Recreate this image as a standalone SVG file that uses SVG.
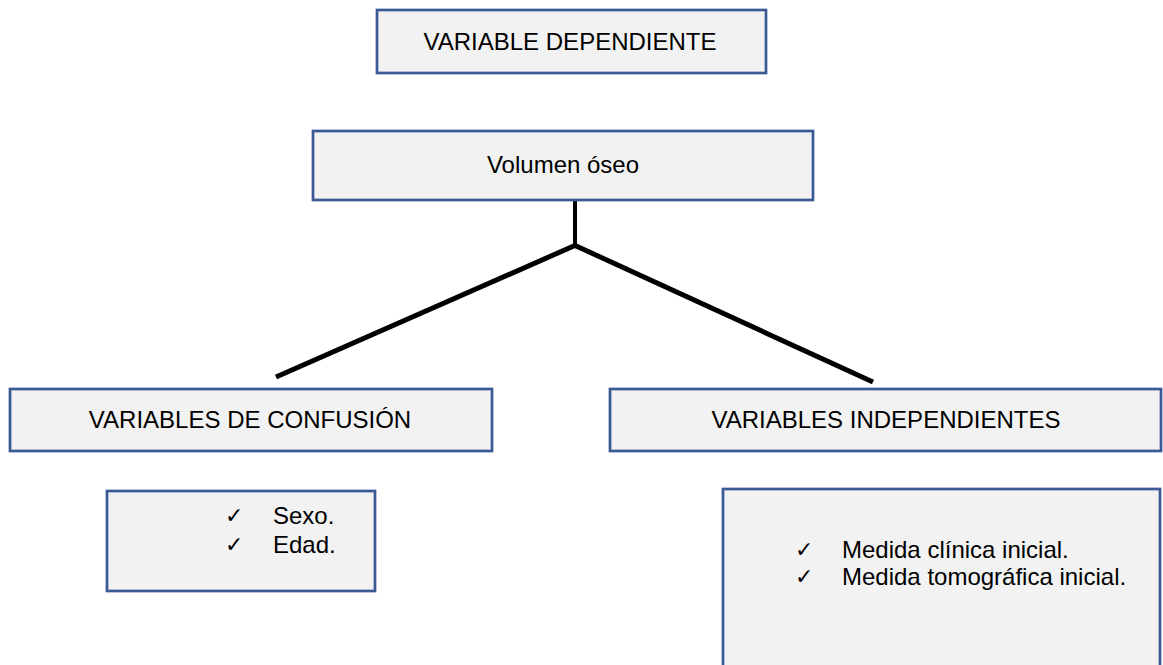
<svg xmlns="http://www.w3.org/2000/svg" width="1163" height="665" viewBox="0 0 1163 665">
  <style>
    .box { fill: #F2F2F2; stroke: #3A5A96; stroke-width: 2.7; }
    .lbl { font-family: "Liberation Sans", Arial, sans-serif; font-size: 24px; fill: #000; }
    .mid { text-anchor: middle; }
    .chk { font-family: "DejaVu Sans", sans-serif; font-size: 22px; fill: #000; }
    .conn { stroke: #000; fill: none; stroke-linecap: butt; }
  </style>
  <rect width="1163" height="665" fill="#FFFFFF"/>
  <g id="connectors">
    <line class="conn" x1="575" y1="200" x2="575" y2="247" stroke-width="4"/>
    <line class="conn" x1="576" y1="245" x2="276" y2="377" stroke-width="5"/>
    <line class="conn" x1="574" y1="245" x2="873" y2="382" stroke-width="5"/>
  </g>
  <g id="variable-dependiente">
    <rect class="box" x="377" y="10" width="389" height="63"/>
    <text class="lbl mid" x="570" y="50">VARIABLE DEPENDIENTE</text>
  </g>
  <g id="volumen-oseo">
    <rect class="box" x="313" y="131" width="500" height="69"/>
    <text class="lbl mid" x="563" y="173">Volumen óseo</text>
  </g>
  <g id="variables-confusion">
    <rect class="box" x="10" y="389" width="482" height="62"/>
    <text class="lbl mid" x="250" y="428">VARIABLES DE CONFUSIÓN</text>
  </g>
  <g id="variables-independientes">
    <rect class="box" x="610" y="389" width="551" height="62"/>
    <text class="lbl mid" x="886" y="428">VARIABLES INDEPENDIENTES</text>
  </g>
  <g id="lista-confusion">
    <rect class="box" x="107" y="491" width="268" height="100"/>
    <text class="chk" x="225" y="523">✓</text>
    <text class="lbl" x="273" y="524">Sexo.</text>
    <text class="chk" x="225" y="552">✓</text>
    <text class="lbl" x="273" y="553">Edad.</text>
  </g>
  <g id="lista-independientes">
    <rect class="box" x="723" y="489" width="437" height="185"/>
    <text class="chk" x="795" y="557">✓</text>
    <text class="lbl" x="842" y="558">Medida clínica inicial.</text>
    <text class="chk" x="795" y="584">✓</text>
    <text class="lbl" x="842" y="585">Medida tomográfica inicial.</text>
  </g>
</svg>
